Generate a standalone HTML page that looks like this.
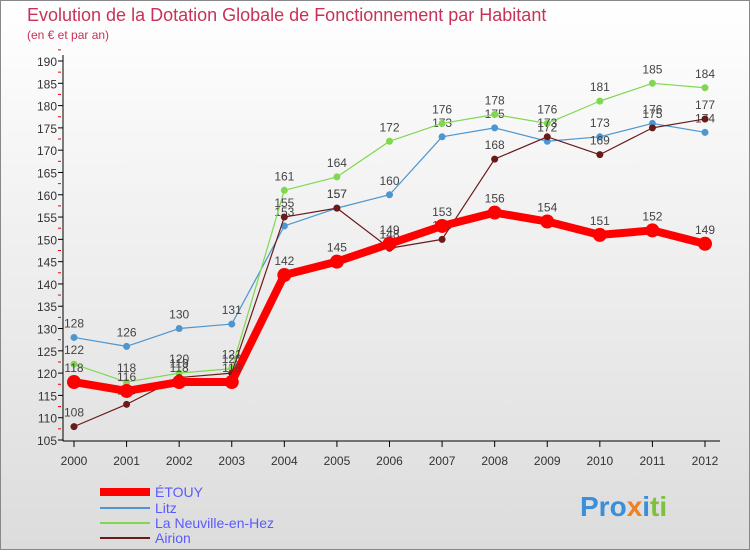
<!DOCTYPE html>
<html><head><meta charset="utf-8"><style>
body{margin:0;width:750px;height:550px;overflow:hidden;font-family:"Liberation Sans",sans-serif}
</style></head><body>
<svg width="750" height="550" xmlns="http://www.w3.org/2000/svg" font-family="Liberation Sans, sans-serif">
<defs><linearGradient id="bg" x1="0" y1="0" x2="0" y2="1"><stop offset="0" stop-color="#ffffff"/><stop offset="1" stop-color="#dcdcdc"/></linearGradient></defs>
<rect x="0.5" y="0.5" width="749" height="549" fill="url(#bg)" stroke="#888"/>
<text x="27" y="21" font-size="18" fill="#c8325a">Evolution de la Dotation Globale de Fonctionnement par Habitant</text>
<text x="27" y="39" font-size="12" fill="#c8325a">(en € et par an)</text>
<g id="axes"></g><g id="series"></g>
<g font-size="14" fill="#5a5aff">
<line x1="100" y1="492" x2="150" y2="492" stroke="#ff0000" stroke-width="8"/><text x="155" y="497">ÉTOUY</text>
<line x1="100" y1="508" x2="150" y2="508" stroke="#4d96d0" stroke-width="2"/><text x="155" y="513">Litz</text>
<line x1="100" y1="523" x2="150" y2="523" stroke="#80d850" stroke-width="2"/><text x="155" y="528">La Neuville-en-Hez</text>
<line x1="100" y1="538" x2="150" y2="538" stroke="#6b1a1a" stroke-width="2"/><text x="155" y="543">Airion</text>
</g>
<text x="580" y="516" font-size="28" font-weight="bold"><tspan fill="#3a8fd8">Pro</tspan><tspan fill="#f08020">x</tspan><tspan fill="#3a8fd8">i</tspan><tspan fill="#80c040">ti</tspan></text>
</svg>
<script>
const years=["2000","2001","2002","2003","2004","2005","2006","2007","2008","2009","2010","2011","2012"];
const etouy=[118,116,118,118,142,145,149,153,156,154,151,152,149];
const litz=[128,126,130,131,153,157,160,173,175,172,173,176,174];
const neuville=[122,118,120,121,161,164,172,176,178,176,181,185,184];
const airion=[108,113,119,120,155,157,148,150,168,173,169,175,177];
const yTicks=[105,110,115,120,125,130,135,140,145,150,155,160,165,170,175,180,185,190];
const NS="http://www.w3.org/2000/svg";
const x=i=>74+i*(705-74)/12;
const y=v=>440-(v-105)*(440-61)/85;
function mk(t,a,p){const e=document.createElementNS(NS,t);for(const k in a)e.setAttribute(k,a[k]);p.appendChild(e);return e;}
const ax=document.getElementById('axes');
mk('line',{x1:63,y1:55,x2:63,y2:441,stroke:'#000'},ax);
mk('line',{x1:63,y1:441,x2:720,y2:441,stroke:'#000'},ax);
yTicks.forEach(v=>{
 mk('line',{x1:58,y1:y(v),x2:63,y2:y(v),stroke:'#000'},ax);
 mk('line',{x1:58,y1:y(v+2.5),x2:61,y2:y(v+2.5),stroke:'#e00'},ax);
 const t=mk('text',{x:57,y:y(v)+5,'text-anchor':'end','font-size':12,fill:'#333'},ax);t.textContent=v;
 
 
});
years.forEach((yr,i)=>{
 mk('line',{x1:x(i),y1:441,x2:x(i),y2:447,stroke:'#000'},ax);
 const t=mk('text',{x:x(i),y:465,'text-anchor':'middle','font-size':12,fill:'#333'},ax);t.textContent=yr;
 
 
});
const sg=document.getElementById('series');
function draw(data,col,w,r,name){
 const g=mk('g',{},sg);
 
 
 mk('polyline',{points:data.map((v,i)=>x(i)+','+y(v)).join(' '),fill:'none',stroke:col,'stroke-width':w,'stroke-linejoin':'round'},g);
 data.forEach((v,i)=>{
  const c=mk('circle',{cx:x(i),cy:y(v),r:r,fill:col},g);
  
  
  const t=mk('text',{x:x(i),y:y(v)-10,'text-anchor':'middle','font-size':12,fill:'#444'},g);t.textContent=v;
  
  
 });
}
draw(litz,'#4d96d0',1.2,3.5,'series-litz');
draw(neuville,'#80d850',1.2,3.5,'series-la-neuville');
draw(airion,'#6b1a1a',1.2,3.5,'series-airion');
draw(etouy,'#ff0000',8,7,'series-etouy');
</script>
</body></html>
